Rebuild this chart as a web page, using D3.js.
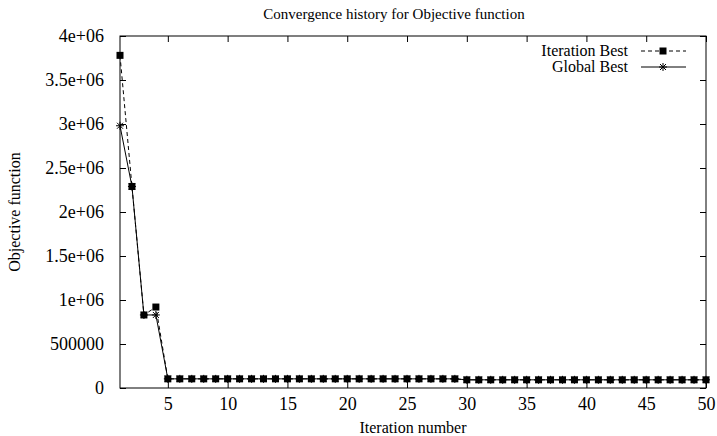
<!DOCTYPE html>
<html>
<head>
<meta charset="utf-8">
<script src="https://cdn.jsdelivr.net/npm/d3@7"></script>
<style>
  html, body { margin: 0; padding: 0; background: #fff; }
  svg { display: block; }
  svg text { font-family: "Liberation Serif", "Times New Roman", "DejaVu Serif", serif; fill: #000; }
</style>
</head>
<body>
<svg id="chart" width="717" height="436"></svg>
<script>
// Iteration numbers 1..50
const iterations = [
  1, 2, 3, 4, 5, 6, 7, 8, 9, 10,
  11, 12, 13, 14, 15, 16, 17, 18, 19, 20,
  21, 22, 23, 24, 25, 26, 27, 28, 29, 30,
  31, 32, 33, 34, 35, 36, 37, 38, 39, 40,
  41, 42, 43, 44, 45, 46, 47, 48, 49, 50
];

// Best objective value found within each iteration
const iterationBest = [
  3780000, 2290000, 830000, 920000, 104000, 104000, 104000, 104000, 104000, 104000,
  104000, 104000, 104000, 104000, 104000, 104000, 104000, 104000, 104000, 104000,
  104000, 104000, 104000, 104000, 104000, 104000, 104000, 104000, 104000, 93000,
  93000, 93000, 93000, 93000, 93000, 93000, 93000, 93000, 93000, 93000,
  93000, 93000, 93000, 93000, 93000, 93000, 93000, 93000, 93000, 93000
];

// Best objective value found so far
const globalBest = [
  2980000, 2290000, 830000, 830000, 104000, 104000, 104000, 104000, 104000, 104000,
  104000, 104000, 104000, 104000, 104000, 104000, 104000, 104000, 104000, 104000,
  104000, 104000, 104000, 104000, 104000, 104000, 104000, 104000, 104000, 93000,
  93000, 93000, 93000, 93000, 93000, 93000, 93000, 93000, 93000, 93000,
  93000, 93000, 93000, 93000, 93000, 93000, 93000, 93000, 93000, 93000
];

const xTicks = [5, 10, 15, 20, 25, 30, 35, 40, 45, 50];
const yTicks = [0, 500000, 1000000, 1500000, 2000000, 2500000, 3000000, 3500000, 4000000];
const yTickLabels = ["0", "500000", "1e+06", "1.5e+06", "2e+06", "2.5e+06", "3e+06", "3.5e+06", "4e+06"];

const seriesNames = ["Iteration Best", "Global Best"];
const titleText = "Convergence history for Objective function";
const xTitle = "Iteration number";
const yTitle = "Objective function";

const svg = d3.select("#chart");
const W = 717, H = 436;
const m = { left: 120, right: 11, top: 36, bottom: 48 };
const pw = W - m.left - m.right, ph = H - m.top - m.bottom;

const x = d3.scaleLinear().domain([1, 50]).range([m.left, m.left + pw]);
const y = d3.scaleLinear().domain([0, 4000000]).range([m.top + ph, m.top]);

const fontSize = 16;
const tickFont = 18;
const tickLen = 6;

// Title
svg.append("text")
  .attr("x", 394).attr("y", 19)
  .attr("text-anchor", "middle")
  .attr("font-size", 15)
  .text(titleText);

// Axes with inward ticks
const xAxis = d3.axisBottom(x).tickValues(xTicks).tickSize(-tickLen).tickPadding(tickLen + 3);
const yAxis = d3.axisLeft(y).tickValues(yTicks).tickSize(-tickLen).tickPadding(tickLen + 10)
  .tickFormat((d, i) => yTickLabels[i]);

const gx = svg.append("g").attr("transform", `translate(0,${m.top + ph})`).call(xAxis);
const gy = svg.append("g").attr("transform", `translate(${m.left},0)`).call(yAxis);

// Mirror ticks on top and right
const gxTop = svg.append("g").attr("transform", `translate(0,${m.top})`)
  .call(d3.axisTop(x).tickValues(xTicks).tickSize(-tickLen).tickFormat(""));
const gyRight = svg.append("g").attr("transform", `translate(${m.left + pw},0)`)
  .call(d3.axisRight(y).tickValues(yTicks).tickSize(-tickLen).tickFormat(""));

[gx, gy, gxTop, gyRight].forEach(g => {
  g.attr("font-family", null).attr("font-size", tickFont);
  g.select(".domain").remove();
  g.selectAll(".tick line").attr("stroke", "#000").attr("stroke-width", 1);
  g.selectAll("text").attr("fill", "#000");
});

// Frame
svg.append("rect")
  .attr("x", m.left).attr("y", m.top).attr("width", pw).attr("height", ph)
  .attr("fill", "none").attr("stroke", "#000").attr("stroke-width", 1);

// Axis titles
svg.append("text")
  .attr("x", x(1) + pw / 2).attr("y", 433)
  .attr("text-anchor", "middle").attr("font-size", fontSize)
  .text(xTitle);
svg.append("text")
  .attr("transform", `translate(20,${m.top + ph / 2}) rotate(-90)`)
  .attr("text-anchor", "middle").attr("font-size", fontSize)
  .text(yTitle);

const line = d3.line().x(d => x(d[0])).y(d => y(d[1]));
const iterData = iterations.map((it, i) => [it, iterationBest[i]]);
const globData = iterations.map((it, i) => [it, globalBest[i]]);

const sq = 7;
const starPath = s => {
  const h = s / 2, d = h * 0.75;
  return `M${-h},0H${h}M0,${-h}V${h}M${-d},${-d}L${d},${d}M${-d},${d}L${d},${-d}`;
};

// Iteration Best: dashed line with filled squares
svg.append("path").datum(iterData)
  .attr("d", line).attr("fill", "none").attr("stroke", "#000")
  .attr("stroke-width", 1).attr("stroke-dasharray", "4,3");
svg.append("g").selectAll("rect").data(iterData).join("rect")
  .attr("x", d => x(d[0]) - sq / 2).attr("y", d => y(d[1]) - sq / 2)
  .attr("width", sq).attr("height", sq).attr("fill", "#000");

// Global Best: solid line with asterisks
svg.append("path").datum(globData)
  .attr("d", line).attr("fill", "none").attr("stroke", "#000").attr("stroke-width", 1);
svg.append("g").selectAll("path").data(globData).join("path")
  .attr("transform", d => `translate(${x(d[0])},${y(d[1])})`)
  .attr("d", starPath(8)).attr("fill", "none").attr("stroke", "#000").attr("stroke-width", 1);

// Legend
const legRight = 628, legY = [51, 67], sx0 = 641, sx1 = 686, sxm = 663;
seriesNames.forEach((name, i) => {
  svg.append("text")
    .attr("x", legRight).attr("y", legY[i]).attr("dy", "0.33em")
    .attr("text-anchor", "end").attr("font-size", fontSize)
    .text(name);
  svg.append("line")
    .attr("x1", sx0).attr("x2", sx1).attr("y1", legY[i]).attr("y2", legY[i])
    .attr("stroke", "#000").attr("stroke-width", 1)
    .attr("stroke-dasharray", i === 0 ? "4,3" : null);
  if (i === 0) {
    svg.append("rect").attr("x", sxm - sq / 2).attr("y", legY[i] - sq / 2)
      .attr("width", sq).attr("height", sq).attr("fill", "#000");
  } else {
    svg.append("path").attr("transform", `translate(${sxm},${legY[i]})`)
      .attr("d", starPath(8)).attr("fill", "none").attr("stroke", "#000");
  }
});
</script>
</body>
</html>
